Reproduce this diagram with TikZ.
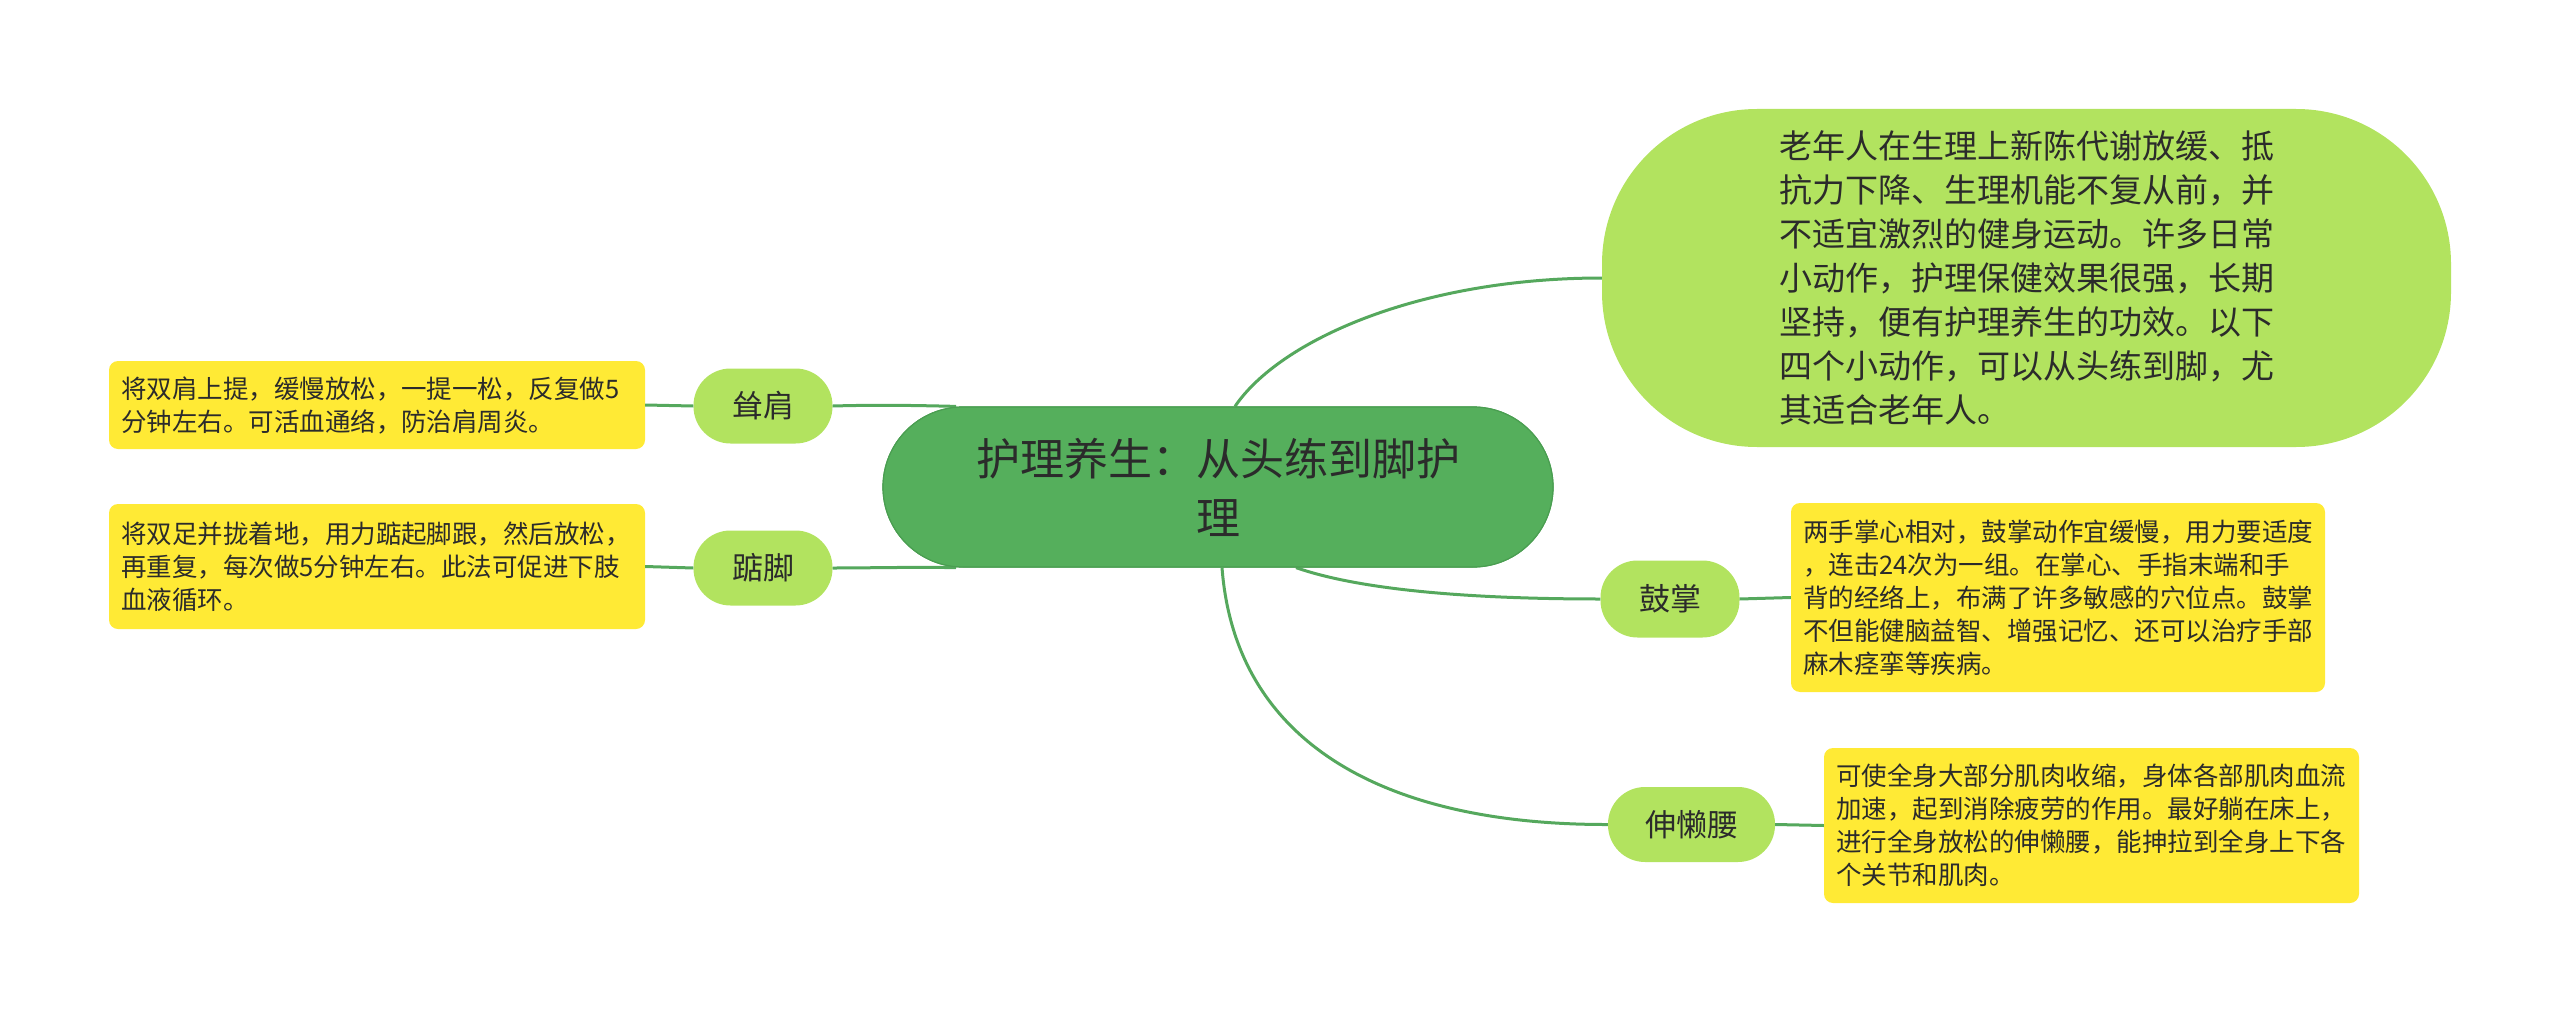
\documentclass[tikz,border=0pt]{standalone}
\usepackage{fontspec}
\newfontfamily\cjk{Noto Sans CJK SC}
\definecolor{maingreen}{HTML}{55AF5C}
\definecolor{mainborder}{HTML}{4A9E51}
\definecolor{lightgreen}{HTML}{B2E35F}
\definecolor{noteyellow}{HTML}{FFEA35}
\definecolor{linkgreen}{HTML}{55A85D}
\definecolor{txt}{HTML}{2B2B2B}
\begin{document}
\begin{tikzpicture}[x=1pt,y=-1pt,
  root/.style={draw=mainborder, line width=1.2pt, fill=maingreen, rounded corners=80pt,
    minimum width=670pt, minimum height=160pt, inner sep=0pt, align=center, text=txt,
    font=\cjk\fontsize{44}{59}\selectfont},
  bigtopic/.style={fill=lightgreen, rounded corners=155pt, minimum width=849pt,
    minimum height=338pt, inner sep=0pt, align=left, text=txt,
    font=\cjk\fontsize{33}{44}\selectfont},
  topic/.style={fill=lightgreen, rounded corners=37pt, minimum height=75pt,
    inner sep=0pt, text=txt, font=\cjk\fontsize{31}{38}\selectfont},
  note/.style={fill=noteyellow, rounded corners=9pt, inner ysep=0pt, inner xsep=12pt,
    align=left, text=txt, font=\cjk\fontsize{25.5}{33}\selectfont},
  link/.style={draw=linkgreen, line width=3pt}
]
\useasboundingbox (0,0) rectangle (2560,1014);

% connectors first (nodes are drawn on top afterwards)
\coordinate (cc) at (1218,487);
\path (cc) +(-335,-80) coordinate (cnw) +(335,80) coordinate (cse);

% main nodes
\node[root] (c) at (cc) {护理养生：从头练到脚护\\理};
\node[bigtopic] (tr) at (2026.5,278) {老年人在生理上新陈代谢放缓、抵\\抗力下降、生理机能不复从前，并\\不适宜激烈的健身运动。许多日常\\小动作，护理保健效果很强，长期\\坚持，便有护理养生的功效。以下\\四个小动作，可以从头练到脚，尤\\其适合老年人。};

\node[topic, minimum width=139pt] (sj) at (763,406) {耸肩};
\node[topic, minimum width=139pt] (dj) at (763,568) {踮脚};
\node[topic, minimum width=139pt, minimum height=77pt] (gz) at (1670,599) {鼓掌};
\node[topic, minimum width=167pt] (sly) at (1691.5,824.5) {伸懒腰};

% notes
\node[note, text width=512pt, minimum height=88pt] (nsj) at (377,405)
  {将双肩上提，缓慢放松，一提一松，反复做5\\分钟左右。可活血通络，防治肩周炎。};
\node[note, text width=512pt, minimum height=125pt] (ndj) at (377,566.5)
  {将双足并拢着地，用力踮起脚跟，然后放松，\\再重复，每次做5分钟左右。此法可促进下肢\\血液循环。};
\node[note, text width=510pt, minimum height=189pt] (ngz) at (2058,597.5)
  {两手掌心相对，鼓掌动作宜缓慢，用力要适度\\，连击24次为一组。在掌心、手指末端和手\\背的经络上，布满了许多敏感的穴位点。鼓掌\\不但能健脑益智、增强记忆、还可以治疗手部\\麻木痉挛等疾病。};
\node[note, text width=511pt, minimum height=155pt] (nsly) at (2091.5,825.5)
  {可使全身大部分肌肉收缩，身体各部肌肉血流\\加速，起到消除疲劳的作用。最好躺在床上，\\进行全身放松的伸懒腰，能抻拉到全身上下各\\个关节和肌肉。};

% connectors
\draw[link] ([xshift=17pt]c.north) .. controls (1280,340) and (1420,278) .. (tr.west);
\draw[link] ([xshift=-262pt]c.north) .. controls (900,405) and (870,405) .. (sj.east);
\draw[link] ([xshift=-262pt]c.south) .. controls (900,567) and (870,568) .. (dj.east);
\draw[link] ([xshift=78pt]c.south) .. controls (1360,590) and (1470,599) .. (gz.west);
\draw[link] ([xshift=4pt]c.south) .. controls (1235,740) and (1380,825) .. (sly.west);
\draw[link] (sj.west) -- (nsj.east);
\draw[link] (dj.west) -- (ndj.east);
\draw[link] (gz.east) -- (ngz.west);
\draw[link] (sly.east) -- (nsly.west);

% redraw the root on top of the connector ends
\node[root] at (c) {护理养生：从头练到脚护\\理};
\end{tikzpicture}
\end{document}
